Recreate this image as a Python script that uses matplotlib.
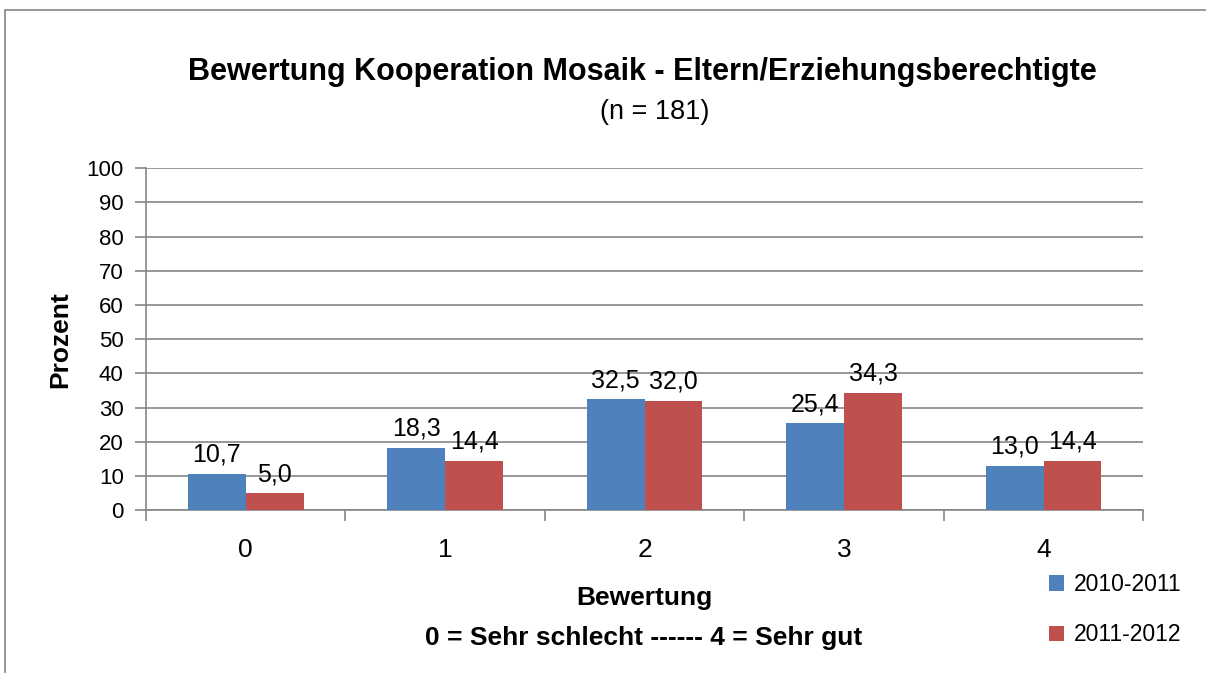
import numpy as np
import matplotlib.pyplot as plt
from matplotlib.patches import Rectangle

# Daten
categories = ["0", "1", "2", "3", "4"]
series_names = ["2010-2011", "2011-2012"]
values_2010 = [10.7, 18.3, 32.5, 25.4, 13.0]
values_2011 = [5.0, 14.4, 32.0, 34.3, 14.4]

blue = "#4F81BD"
red = "#C0504D"
grid_col = "#868686"

plt.rcParams["font.family"] = ["Liberation Sans", "DejaVu Sans"]

fig = plt.figure(figsize=(12.06, 6.73), dpi=100)
ax = fig.add_axes([0.121, 0.242, 0.827, 0.508])

# Rahmen des Diagrammbereichs
fig.patches.append(Rectangle((5 / 1206, -0.05), 1.2, 1 - 10 / 673 + 0.05,
                             transform=fig.transFigure, fill=False,
                             edgecolor="#868686", linewidth=1.2))

x = np.arange(len(categories))
w = 0.29
b1 = ax.bar(x - w / 2, values_2010, w, color=blue, label=series_names[0], zorder=3)
b2 = ax.bar(x + w / 2, values_2011, w, color=red, label=series_names[1], zorder=3)

for bars, vals in [(b1, values_2010), (b2, values_2011)]:
    for rect, v in zip(bars, vals):
        ax.annotate(f"{v:.1f}".replace(".", ","),
                    (rect.get_x() + rect.get_width() / 2, v),
                    xytext=(0, 5), textcoords="offset points",
                    ha="center", va="bottom", fontsize=18)

ax.set_ylim(0, 100)
ax.set_xlim(-0.5, 4.5)
ax.set_yticks(range(0, 101, 10))
ax.set_xticks(x)
ax.set_xticklabels(categories, fontsize=19)
ax.set_xticks(np.arange(-0.5, 4.6, 1), minor=True)
ax.tick_params(axis="x", which="major", length=0, pad=20)
ax.tick_params(axis="x", which="minor", length=8, color=grid_col, width=1.2)
ax.tick_params(axis="y", length=8, color=grid_col, width=1.2, labelsize=16, pad=8)

ax.yaxis.grid(True, color=grid_col, linewidth=1.2, zorder=0)
ax.set_axisbelow(True)
for s in ["top", "right"]:
    ax.spines[s].set_visible(False)
for s in ["left", "bottom"]:
    ax.spines[s].set_color(grid_col)
    ax.spines[s].set_linewidth(1.2)

ax.set_ylabel("Prozent", fontsize=19, fontweight="bold", labelpad=10)

fig.text(0.533, 0.893, "Bewertung Kooperation Mosaik - Eltern/Erziehungsberechtigte",
         ha="center", va="center", fontsize=22, fontweight="bold")
fig.text(0.543, 0.833, "(n = 181)", ha="center", va="center", fontsize=19.5)
fig.text(0.534, 0.111, "Bewertung", ha="center", va="center", fontsize=19, fontweight="bold")
fig.text(0.534, 0.052, "0 = Sehr schlecht ------ 4 = Sehr gut", ha="center", va="center",
         fontsize=19, fontweight="bold")

fig.legend(handles=[b1, b2], labels=series_names, loc="center left",
           bbox_to_anchor=(0.853, 0.094), frameon=False, fontsize=16.5,
           handlelength=0.65, handleheight=0.65, handletextpad=0.4, labelspacing=1.2)

fig.savefig("out.png", dpi=100)
